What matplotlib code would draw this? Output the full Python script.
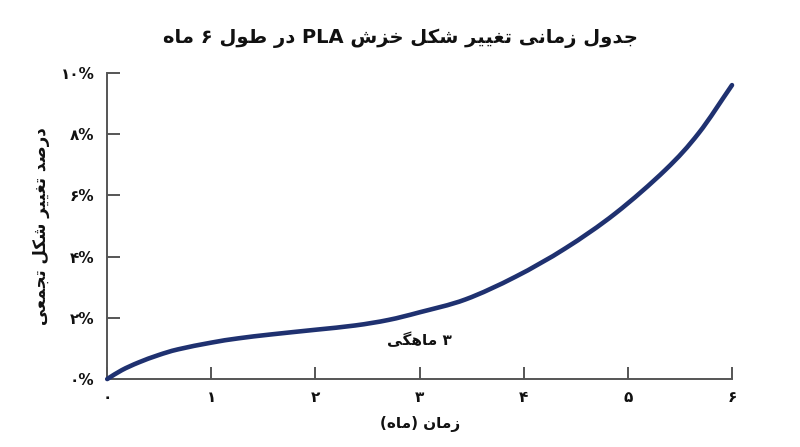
import matplotlib
matplotlib.use('Agg')
import matplotlib.pyplot as plt
from matplotlib.path import Path
from matplotlib.patches import PathPatch

# ---------------- data ----------------
months = [0.0, 0.14, 0.30, 0.49, 0.68, 1.0, 1.26, 1.58, 2.0, 2.38, 2.70,
          3.0, 3.44, 3.92, 4.40, 4.88, 5.36, 5.68, 6.0]
deformation = [0.0, 0.29, 0.54, 0.78, 0.97, 1.19, 1.33, 1.46, 1.61, 1.75, 1.93,
               2.18, 2.60, 3.34, 4.27, 5.41, 6.83, 8.03, 9.60]
x_ticks = [0, 1, 2, 3, 4, 5, 6]
x_tick_labels = ['۰', '۱', '۲', '۳', '۴', '۵', '۶']
y_ticks = [0, 2, 4, 6, 8, 10]
y_tick_labels = ['۰%', '۲%', '۴%', '۶%', '۸%', '۱۰%']
title_text = 'جدول زمانی تغییر شکل خزش PLA در طول ۶ ماه'
xlabel_text = 'زمان (ماه)'
ylabel_text = 'درصد تغییر شکل تجمعی'
annot_text = '۳ ماهگی'
annot_pos = (3.0, 1.27)

# ------------- minimal Persian shaping -------------
AR_FORMS = {
    'ا': ('\uFE8D', '\uFE8E', None, None),
    'ب': ('\uFE8F', '\uFE90', '\uFE91', '\uFE92'),
    'ت': ('\uFE95', '\uFE96', '\uFE97', '\uFE98'),
    'ج': ('\uFE9D', '\uFE9E', '\uFE9F', '\uFEA0'),
    'خ': ('\uFEA5', '\uFEA6', '\uFEA7', '\uFEA8'),
    'د': ('\uFEA9', '\uFEAA', None, None),
    'ر': ('\uFEAD', '\uFEAE', None, None),
    'ز': ('\uFEAF', '\uFEB0', None, None),
    'ش': ('\uFEB5', '\uFEB6', '\uFEB7', '\uFEB8'),
    'ص': ('\uFEB9', '\uFEBA', '\uFEBB', '\uFEBC'),
    'ط': ('\uFEC1', '\uFEC2', '\uFEC3', '\uFEC4'),
    'ع': ('\uFEC9', '\uFECA', '\uFECB', '\uFECC'),
    'غ': ('\uFECD', '\uFECE', '\uFECF', '\uFED0'),
    'ل': ('\uFEDD', '\uFEDE', '\uFEDF', '\uFEE0'),
    'م': ('\uFEE1', '\uFEE2', '\uFEE3', '\uFEE4'),
    'ن': ('\uFEE5', '\uFEE6', '\uFEE7', '\uFEE8'),
    'ه': ('\uFEE9', '\uFEEA', '\uFEEB', '\uFEEC'),
    'و': ('\uFEED', '\uFEEE', None, None),
    'ک': ('\uFB8E', '\uFB8F', '\uFB90', '\uFB91'),
    'گ': ('\uFB92', '\uFB93', '\uFB94', '\uFB95'),
    'ی': ('\uFBFC', '\uFBFD', '\uFBFE', '\uFBFF'),
}
MIRROR = {'(': ')', ')': '('}


def shape(text):
    out = []
    n = len(text)
    for i, c in enumerate(text):
        if c not in AR_FORMS:
            out.append(c)
            continue
        iso, fin, ini, med = AR_FORMS[c]
        prev = text[i - 1] if i > 0 else ''
        nxt = text[i + 1] if i < n - 1 else ''
        jp = prev in AR_FORMS and AR_FORMS[prev][2] is not None
        jn = ini is not None and nxt in AR_FORMS
        if jp and jn:
            out.append(med)
        elif jp:
            out.append(fin)
        elif jn:
            out.append(ini)
        else:
            out.append(iso)
    s = ''.join(out)
    rev = [MIRROR.get(ch, ch) for ch in reversed(s)]
    res = []
    i = 0
    while i < len(rev):
        if rev[i].isascii() and rev[i].isalnum():
            j = i
            while j < len(rev) and rev[j].isascii() and rev[j].isalnum():
                j += 1
            res.extend(reversed(rev[i:j]))
            i = j
        else:
            res.append(rev[i])
            i += 1
    return ''.join(res)


def smooth_path(xs, ys):
    """Catmull-Rom curve through the data points as cubic Bezier segments."""
    pts = list(zip(xs, ys))
    verts = [pts[0]]
    codes = [Path.MOVETO]
    n = len(pts)
    for i in range(n - 1):
        p1 = pts[i]
        p2 = pts[i + 1]
        if i > 0:
            p0 = pts[i - 1]
            c1 = (p1[0] + (p2[0] - p0[0]) / 6.0, p1[1] + (p2[1] - p0[1]) / 6.0)
        else:
            c1 = (p1[0] + (p2[0] - p1[0]) / 3.0, p1[1] + (p2[1] - p1[1]) / 3.0)
        if i + 2 < n:
            p3 = pts[i + 2]
            c2 = (p2[0] - (p3[0] - p1[0]) / 6.0, p2[1] - (p3[1] - p1[1]) / 6.0)
        else:
            c2 = (p2[0] - (p2[0] - p1[0]) / 3.0, p2[1] - (p2[1] - p1[1]) / 3.0)
        verts += [c1, c2, p2]
        codes += [Path.CURVE4] * 3
    return Path(verts, codes)


plt.rcParams['font.family'] = ['DejaVu Sans']
plt.rcParams['font.weight'] = 'bold'

fig = plt.figure(figsize=(8.0, 4.47), dpi=100)
ax = fig.add_axes([0.134, 0.152, 0.781, 0.685])

line_color = '#1f3170'
spine_color = '#555555'

patch = PathPatch(smooth_path(months, deformation), facecolor='none',
                  edgecolor=line_color, linewidth=3.3, capstyle='round',
                  joinstyle='round', transform=ax.transData, clip_on=False,
                  zorder=3)
ax.add_patch(patch)

ax.set_xlim(0, 6)
ax.set_ylim(0, 10)
ax.set_xticks(x_ticks)
ax.set_xticklabels(x_tick_labels, fontsize=11, fontweight='bold')
ax.set_yticks(y_ticks)
ax.set_yticklabels(y_tick_labels, fontsize=11, fontweight='bold')

for side in ['top', 'right']:
    ax.spines[side].set_visible(False)
for side in ['left', 'bottom']:
    ax.spines[side].set_color(spine_color)
    ax.spines[side].set_linewidth(1.4)

ax.tick_params(axis='both', direction='in', length=9, width=1.4,
               color=spine_color, labelcolor='#111111')
ax.tick_params(axis='x', pad=8)
ax.tick_params(axis='y', pad=9)

ax.set_xlabel(shape(xlabel_text), fontsize=11, fontweight='bold',
              color='#111111', labelpad=8)
ax.set_ylabel(shape(ylabel_text), fontsize=12, fontweight='bold',
              color='#111111', labelpad=8)
fig.text(0.5, 0.915, shape(title_text), ha='center', va='center',
         fontsize=14, fontweight='bold', color='#111111')
ax.text(annot_pos[0], annot_pos[1], shape(annot_text), ha='center',
        va='center', fontsize=11, fontweight='bold', color='#111111')

fig.savefig('out.png', dpi=100, facecolor='white')
